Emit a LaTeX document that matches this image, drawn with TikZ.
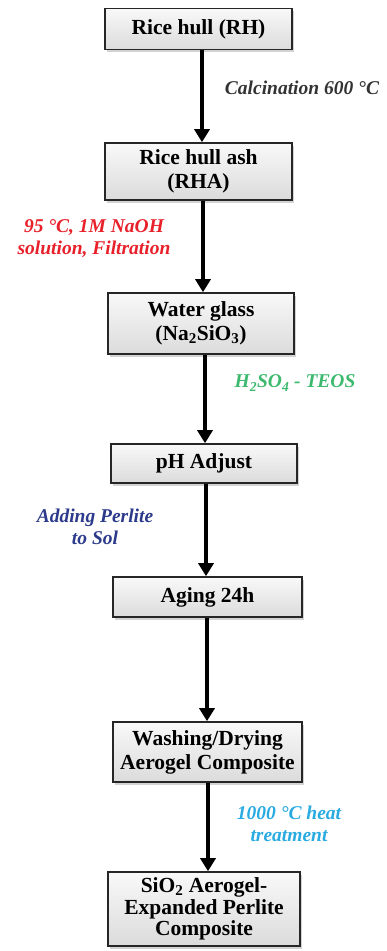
\documentclass[tikz,border=0pt]{standalone}
\usepackage{fontspec}
\setmainfont{Liberation Serif}
\usetikzlibrary{arrows.meta,shadows}
\definecolor{labred}{HTML}{E8202A}
\definecolor{labgreen}{HTML}{3CB96E}
\definecolor{labnavy}{HTML}{2B3A8A}
\definecolor{labcyan}{HTML}{29ABE2}
\definecolor{labgray}{HTML}{333333}
\begin{document}
\begin{tikzpicture}[x=1pt,y=1pt,
 box/.style={draw=black!85, line width=1.6pt, top color=gray!5, bottom color=gray!28,
   minimum width=187pt, align=center, inner sep=0pt,
   font=\fontsize{21.5}{24}\selectfont\bfseries,
   drop shadow={opacity=0.35, shadow xshift=2pt, shadow yshift=-2.5pt}},
 arr/.style={line width=4.5pt, -{Triangle[width=15pt,length=13pt]}},
 lab/.style={font=\fontsize{19.5}{22}\selectfont\bfseries\itshape, align=center}]
\useasboundingbox (0,0) rectangle (386,-951);
\node[box, minimum height=41pt] (rh) at (198.5,-29) {Rice hull (RH)};
\node[box, minimum height=57pt] (rha) at (198.5,-171.5) {Rice hull ash\\(RHA)};
\node[box, minimum height=61pt, minimum width=186pt] (wg) at (201,-323.5) {Water glass\\(Na\textsubscript{2}SiO\textsubscript{3})};
\node[box, minimum height=39pt, minimum width=186pt] (ph) at (204,-463.5) {pH Adjust};
\node[box, minimum height=40pt, minimum width=189pt] (ag) at (207.5,-597) {Aging 24h};
\node[box, minimum height=60pt, minimum width=189pt] (wd) at (207.5,-752) {Washing/Drying\\Aerogel Composite};
\node[box, minimum height=74pt, minimum width=192pt, font=\fontsize{21.5}{21.5}\selectfont\bfseries] (sio) at (204,-909) {SiO\textsubscript{2} Aerogel-\\Expanded Perlite\\Composite};
\coordinate (x1) at (202,0);
\coordinate (x2) at (203,0);
\coordinate (x3) at (205,0);
\coordinate (x4) at (206,0);
\coordinate (x5) at (207,0);
\coordinate (x6) at (208,0);
\draw[arr] (rh.south -| x1) -- (rha.north -| x1);
\draw[arr] (rha.south -| x2) -- (wg.north -| x2);
\draw[arr] (wg.south -| x3) -- (ph.north -| x3);
\draw[arr] (ph.south -| x4) -- (ag.north -| x4);
\draw[arr] (ag.south -| x5) -- (wd.north -| x5);
\draw[arr] (wd.south -| x6) -- (sio.north -| x6);
\node[lab, text=labgray] (l1) at (302,-88) {Calcination 600 °C};
\node[lab, text=labred] (l2) at (94,-239) {95 °C, 1M NaOH\\solution, Filtration};
\node[lab, text=labgreen] (l3) at (295,-383) {H\textsubscript{2}SO\textsubscript{4} - TEOS};
\node[lab, text=labnavy] (l4) at (95,-527) {Adding Perlite\\to Sol};
\node[lab, text=labcyan] (l5) at (289,-824) {1000 °C heat\\treatment};
\end{tikzpicture}
\end{document}
